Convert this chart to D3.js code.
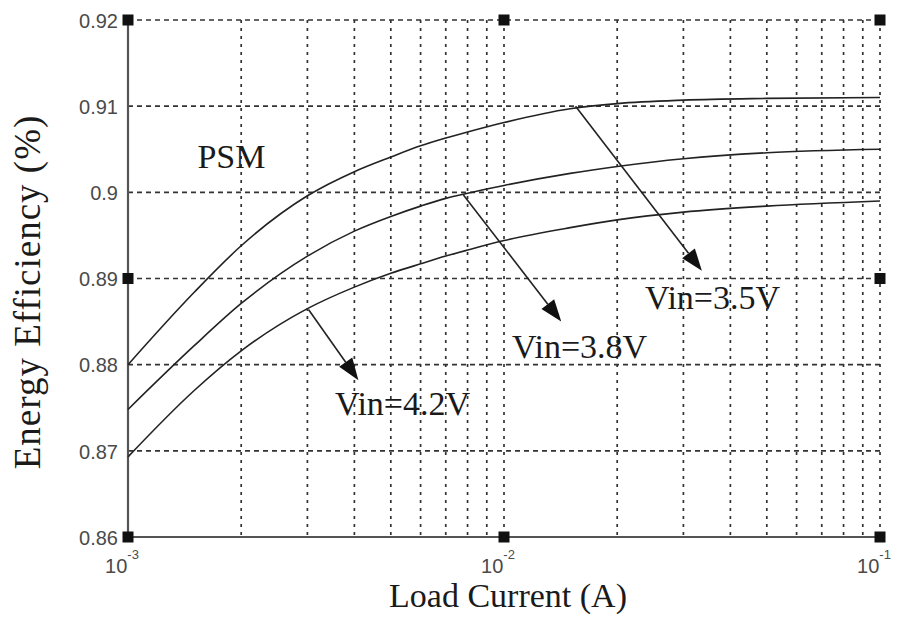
<!DOCTYPE html>
<html>
<head>
<meta charset="utf-8">
<script src="https://cdn.jsdelivr.net/npm/d3@7/dist/d3.min.js"></script>
<style>
  html, body { margin: 0; padding: 0; background: #ffffff; }
  svg { display: block; }
</style>
</head>
<body>
<svg id="chart" width="901" height="624"></svg>
<script>
// ---- data ----
const loadCurrent = [1e-3, 1.5e-3, 2e-3, 3e-3, 4e-3, 5e-3, 6e-3, 7e-3, 8e-3, 1e-2, 1.5e-2, 2e-2, 3e-2, 5e-2, 1e-1];
const eff35 = [0.8800, 0.8884, 0.8938, 0.8996, 0.9024, 0.9041, 0.9054, 0.9063, 0.9070, 0.9081, 0.9097, 0.9103, 0.9107, 0.9109, 0.9110];
const eff38 = [0.8748, 0.8822, 0.8871, 0.8926, 0.8955, 0.8972, 0.8984, 0.8993, 0.8999, 0.9008, 0.9022, 0.9030, 0.9039, 0.9046, 0.9050];
const eff42 = [0.8693, 0.8770, 0.8816, 0.8865, 0.8890, 0.8906, 0.8917, 0.8926, 0.8933, 0.8944, 0.8959, 0.8968, 0.8977, 0.8984, 0.8990];
const seriesNames = ["Vin=3.5V", "Vin=3.8V", "Vin=4.2V"];

const yTicks = [0.86, 0.87, 0.88, 0.89, 0.9, 0.91, 0.92];
const yTickLabels = ["0.86", "0.87", "0.88", "0.89", "0.9", "0.91", "0.92"];
const xTicks = [1e-3, 1e-2, 1e-1];
const xTickExps = ["-3", "-2", "-1"];
const xMinor = [2e-3,3e-3,4e-3,5e-3,6e-3,7e-3,8e-3,9e-3,1e-2,2e-2,3e-2,4e-2,5e-2,6e-2,7e-2,8e-2,9e-2,1e-1];

// arrows: [x0, y0, x1, y1] in data units
const arrow35 = [1.55e-2, 0.9100, 3.36e-2, 0.8909];
const arrow38 = [7.8e-3, 0.8997, 1.42e-2, 0.8850];
const arrow42 = [3.02e-3, 0.8864, 4.1e-3, 0.8782];
// label anchors (data units)
const label35 = [2.37e-2, 0.8865];
const label38 = [1.05e-2, 0.8808];
const label42 = [3.55e-3, 0.8742];
const labelPSM = [1.53e-3, 0.9028];
// square markers (data units)
const markersX = [1e-3, 1e-2, 1e-1, 1e-3, 1e-1, 1e-3, 1e-2, 1e-1];
const markersY = [0.92, 0.92, 0.92, 0.89, 0.89, 0.86, 0.86, 0.86];

// ---- layout ----
const svg = d3.select("#chart");
const L = 128, R = 880, T = 20, B = 537;
const x = d3.scaleLog().domain([1e-3, 1e-1]).range([L, R]);
const y = d3.scaleLinear().domain([0.86, 0.92]).range([B, T]);

const gridColor = "#333";
// vertical dotted grid
svg.append("g").selectAll("line").data(xMinor).join("line")
  .attr("x1", d => x(d)).attr("x2", d => x(d))
  .attr("y1", T).attr("y2", B)
  .attr("stroke", gridColor).attr("stroke-width", 1.7)
  .attr("stroke-dasharray", "3,5");
// horizontal dashed grid
svg.append("g").selectAll("line").data(yTicks.filter(v => v > 0.86)).join("line")
  .attr("x1", L).attr("x2", R)
  .attr("y1", d => y(d)).attr("y2", d => y(d))
  .attr("stroke", gridColor).attr("stroke-width", 1.7)
  .attr("stroke-dasharray", "5,4");

// axes lines
svg.append("line").attr("x1", L).attr("x2", L).attr("y1", T).attr("y2", B)
  .attr("stroke", "#555").attr("stroke-width", 2.2);
svg.append("line").attr("x1", L).attr("x2", R).attr("y1", B).attr("y2", B)
  .attr("stroke", "#555").attr("stroke-width", 2.2);

// y tick labels via axis
const yAxis = d3.axisLeft(y).tickValues(yTicks)
  .tickFormat((d, i) => yTickLabels[i]).tickSize(0).tickPadding(10);
const gy = svg.append("g").attr("transform", `translate(${L},0)`).call(yAxis);
gy.select(".domain").remove();
gy.selectAll("text").attr("font-family", "'Liberation Sans', Arial, sans-serif")
  .attr("font-size", 20).attr("fill", "#4a4a4a").attr("dy", "0.36em");

// x tick labels (10^k)
const gx = svg.append("g");
xTicks.forEach((v, i) => {
  const t = gx.append("text")
    .attr("x", x(v) - 6).attr("y", 573)
    .attr("text-anchor", "middle")
    .attr("font-family", "'Liberation Sans', Arial, sans-serif")
    .attr("font-size", 20).attr("fill", "#4a4a4a");
  t.append("tspan").text("10");
  t.append("tspan").attr("dy", -14).attr("font-size", 13).text(xTickExps[i]);
});

// curves
const line = d3.line().x(d => x(d[0])).y(d => y(d[1])).curve(d3.curveMonotoneX);
[eff35, eff38, eff42].forEach(arr => {
  svg.append("path")
    .datum(loadCurrent.map((c, i) => [c, arr[i]]))
    .attr("d", line)
    .attr("fill", "none").attr("stroke", "#222").attr("stroke-width", 1.6);
});

// arrows
function drawArrow(a) {
  const x0 = x(a[0]), y0 = y(a[1]), x1 = x(a[2]), y1 = y(a[3]);
  const ang = Math.atan2(y1 - y0, x1 - x0);
  const hl = 22, hw = 8;
  const bx = x1 - hl * Math.cos(ang), by = y1 - hl * Math.sin(ang);
  svg.append("line").attr("x1", x0).attr("y1", y0).attr("x2", bx).attr("y2", by)
    .attr("stroke", "#222").attr("stroke-width", 1.6);
  const px = -Math.sin(ang), py = Math.cos(ang);
  svg.append("path")
    .attr("d", `M${x1},${y1}L${bx + px * hw},${by + py * hw}L${bx - px * hw},${by - py * hw}Z`)
    .attr("fill", "#111");
}
drawArrow(arrow35); drawArrow(arrow38); drawArrow(arrow42);

// labels
const serif = "'Liberation Serif', 'Times New Roman', serif";
[[label35, seriesNames[0]], [label38, seriesNames[1]], [label42, seriesNames[2]], [labelPSM, "PSM"]]
  .forEach(([p, s]) => {
    svg.append("text").attr("x", x(p[0])).attr("y", y(p[1]))
      .attr("font-family", serif).attr("font-size", 34).attr("fill", "#1a1a1a").text(s);
  });

// square markers
svg.append("g").selectAll("rect").data(markersX.map((v, i) => [v, markersY[i]])).join("rect")
  .attr("x", d => x(d[0]) - 5.5).attr("y", d => y(d[1]) - 5.5)
  .attr("width", 11).attr("height", 11).attr("fill", "#111");

// axis titles
svg.append("text").attr("x", 508).attr("y", 607).attr("text-anchor", "middle")
  .attr("font-family", serif).attr("font-size", 34).attr("fill", "#1a1a1a")
  .text("Load Current (A)");
svg.append("text").attr("transform", "translate(40,292) rotate(-90)")
  .attr("text-anchor", "middle")
  .attr("font-family", serif).attr("font-size", 37).attr("letter-spacing", 1)
  .attr("fill", "#1a1a1a")
  .text("Energy Efficiency  (%)");
</script>
</body>
</html>
